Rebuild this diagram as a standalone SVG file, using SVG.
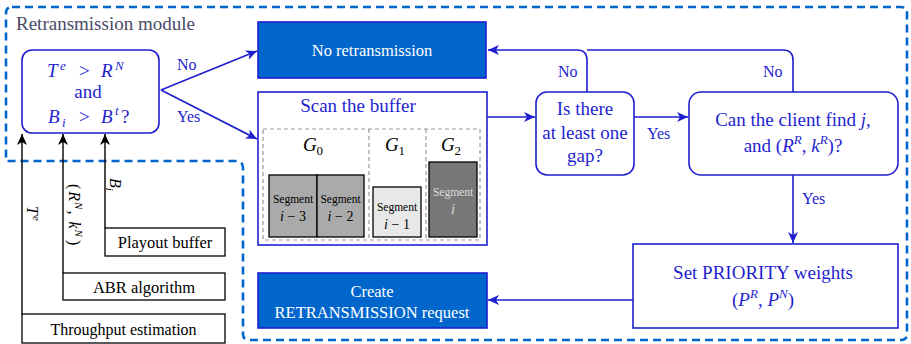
<svg xmlns="http://www.w3.org/2000/svg" width="911" height="344" viewBox="0 0 911 344" font-family="'Liberation Serif', 'DejaVu Serif', serif">
<defs>
<style>
text, tspan {font-family:'Liberation Serif', 'DejaVu Serif', serif;}
.bt{fill:#1f1fd0;}
.wt{fill:#ffffff;}
.kt{fill:#000000;}
.it{font-style:italic;}
.box{fill:#ffffff;stroke:#1f1fd0;stroke-width:1.6;}
.fbox{fill:#0066cc;stroke:#1f1fd0;stroke-width:1.6;}
.kbox{fill:#ffffff;stroke:#000000;stroke-width:1.3;}
.bl{fill:none;stroke:#1f1fd0;stroke-width:1.6;}
.kl{fill:none;stroke:#000000;stroke-width:1.4;}
.seg{stroke:#000000;stroke-width:1.3;}
.gd{fill:none;stroke:#999999;stroke-width:1.2;stroke-dasharray:4 3;}
</style>
<marker id="ab" markerUnits="userSpaceOnUse" markerWidth="12" markerHeight="10" refX="11" refY="5" orient="auto">
<path d="M0,0 L11,5 L0,10 L3,5 Z" fill="#1f1fd0"/>
</marker>
<marker id="ak" markerUnits="userSpaceOnUse" markerWidth="12" markerHeight="10" refX="11" refY="5" orient="auto">
<path d="M0,0 L11,5 L0,10 L3,5 Z" fill="#000000"/>
</marker>
</defs>
<rect width="911" height="344" fill="#ffffff"/>

<g id="module">
<path d="M12,7 H901 Q907,7 907,13 V334 Q907,340 901,340 H249 Q243,340 243,334 V168 Q243,161 236,161 H6 V13 Q6,7 12,7 Z" fill="none" stroke="#0066cc" stroke-width="2.6" stroke-dasharray="8 5"/>
<text x="16" y="30" font-size="19" fill="#4a4a68">Retransmission module</text>
</g>

<g id="connectors">
<line x1="161" y1="90" x2="257" y2="51" class="bl" marker-end="url(#ab)"/>
<line x1="161" y1="90" x2="257" y2="139" class="bl" marker-end="url(#ab)"/>
<line x1="487" y1="117" x2="535" y2="117" class="bl" marker-end="url(#ab)"/>
<line x1="634" y1="117" x2="688" y2="117" class="bl" marker-end="url(#ab)"/>
<path d="M587,92 V60 Q587,50 577,50 H488" class="bl" marker-end="url(#ab)"/>
<path d="M793,92 V60 Q793,50 783,50 H587" class="bl"/>
<line x1="793" y1="175" x2="793" y2="243" class="bl" marker-end="url(#ab)"/>
<line x1="633" y1="300" x2="488" y2="300" class="bl" marker-end="url(#ab)"/>
<line x1="22" y1="314" x2="22" y2="134" class="kl" marker-end="url(#ak)"/>
<line x1="63" y1="273" x2="63" y2="134" class="kl" marker-end="url(#ak)"/>
<line x1="105" y1="228" x2="105" y2="134" class="kl" marker-end="url(#ak)"/>
<text x="177" y="70" font-size="16" class="bt">No</text>
<text x="177" y="122" font-size="16" class="bt">Yes</text>
<text x="558" y="77" font-size="16" class="bt">No</text>
<text x="763" y="77" font-size="16" class="bt">No</text>
<text x="647" y="139" font-size="16" class="bt">Yes</text>
<text x="802" y="204" font-size="16" class="bt">Yes</text>
<text transform="translate(27,206) rotate(90)" font-size="16" class="kt"><tspan class="it">T</tspan><tspan class="it" font-size="11" dy="-6" dx="1">e</tspan></text>
<text transform="translate(69,184) rotate(90)" font-size="16" class="kt">(<tspan class="it" dx="2">R</tspan><tspan class="it" font-size="11" dy="-6" dx="1">N</tspan><tspan dy="6" dx="1">, </tspan><tspan class="it" dx="3">k</tspan><tspan class="it" font-size="11" dy="-6" dx="1">N</tspan><tspan dy="6" dx="3">)</tspan></text>
<text transform="translate(110,178) rotate(90)" font-size="16" class="kt"><tspan class="it">B</tspan><tspan class="it" font-size="11" dy="4">i</tspan></text>
</g>

<g id="decision-threshold">
<rect x="22" y="50" width="137" height="83" rx="10" class="box"/>
<text y="77" font-size="19" class="bt it"><tspan x="47">T</tspan><tspan x="60" y="70" font-size="13">e</tspan><tspan x="79" y="77" font-style="normal">&gt;</tspan><tspan x="101">R</tspan><tspan x="115" y="70" font-size="13">N</tspan></text>
<text x="88" y="98" font-size="19" text-anchor="middle" class="bt">and</text>
<text y="123" font-size="19" class="bt it"><tspan x="48">B</tspan><tspan x="62" y="127" font-size="13">i</tspan><tspan x="79" y="123" font-style="normal">&gt;</tspan><tspan x="101">B</tspan><tspan x="115" y="115" font-size="13">t</tspan><tspan x="121" y="123" font-style="normal">?</tspan></text>
</g>

<g id="no-retransmission">
<rect x="258" y="22" width="228" height="56" class="fbox"/>
<text x="372" y="56" font-size="16.5" text-anchor="middle" class="wt">No retransmission</text>
</g>

<g id="scan-buffer">
<rect x="258" y="92" width="229" height="153" class="box"/>
<text x="358" y="112" font-size="19" text-anchor="middle" class="bt">Scan the buffer</text>
<rect x="263" y="129" width="217" height="111" class="gd"/>
<line x1="369" y1="129" x2="369" y2="240" class="gd"/>
<line x1="426" y1="129" x2="426" y2="240" class="gd"/>
<text x="313" y="151" font-size="19" text-anchor="middle" class="kt"><tspan class="it">G</tspan><tspan font-size="13" dy="4">0</tspan></text>
<text x="395" y="151" font-size="19" text-anchor="middle" class="kt"><tspan class="it">G</tspan><tspan font-size="13" dy="4">1</tspan></text>
<text x="451" y="151" font-size="19" text-anchor="middle" class="kt"><tspan class="it">G</tspan><tspan font-size="13" dy="4">2</tspan></text>
<rect x="269" y="175" width="48" height="62" fill="#aaaaaa" class="seg"/>
<rect x="317" y="175" width="47" height="62" fill="#aaaaaa" class="seg"/>
<rect x="373" y="187" width="48" height="50" fill="#e8e8e8" class="seg"/>
<rect x="429" y="162" width="48" height="75" fill="#777777" class="seg"/>
<text x="293" y="203" font-size="11.5" text-anchor="middle" class="kt">Segment</text>
<text x="293" y="221" font-size="14" text-anchor="middle" class="kt"><tspan class="it">i</tspan> − 3</text>
<text x="340.5" y="203" font-size="11.5" text-anchor="middle" class="kt">Segment</text>
<text x="340.5" y="221" font-size="14" text-anchor="middle" class="kt"><tspan class="it">i</tspan> − 2</text>
<text x="397" y="211" font-size="11.5" text-anchor="middle" class="kt">Segment</text>
<text x="397" y="229" font-size="14" text-anchor="middle" class="kt"><tspan class="it">i</tspan> − 1</text>
<text x="453" y="196" font-size="11.5" text-anchor="middle" fill="#dddddd">Segment</text>
<text x="453" y="214" font-size="14" text-anchor="middle" fill="#dddddd" font-style="italic">i</text>
</g>

<g id="gap-decision">
<rect x="536" y="92" width="98" height="83" rx="11" class="box"/>
<text x="585" y="115" font-size="19" text-anchor="middle" class="bt">Is there</text>
<text x="585" y="139" font-size="19" text-anchor="middle" class="bt">at least one</text>
<text x="585" y="162" font-size="19" text-anchor="middle" class="bt">gap?</text>
</g>

<g id="client-decision">
<rect x="689" y="92" width="209" height="83" rx="12" class="box"/>
<text x="793" y="126" font-size="19" text-anchor="middle" class="bt">Can the client find <tspan class="it">j</tspan>,</text>
<text x="793" y="152" font-size="19" text-anchor="middle" class="bt">and (<tspan class="it">R</tspan><tspan class="it" font-size="13" dy="-8">R</tspan><tspan dy="8">, </tspan><tspan class="it">k</tspan><tspan class="it" font-size="13" dy="-8">R</tspan><tspan dy="8">)?</tspan></text>
</g>

<g id="set-priority">
<rect x="633" y="244" width="265" height="84" class="box"/>
<text x="763" y="279" font-size="19" text-anchor="middle" class="bt">Set PRIORITY weights</text>
<text x="763" y="306" font-size="19" text-anchor="middle" class="bt">(<tspan class="it">P</tspan><tspan class="it" font-size="13" dy="-8">R</tspan><tspan dy="8">, </tspan><tspan class="it">P</tspan><tspan class="it" font-size="13" dy="-8">N</tspan><tspan dy="8">)</tspan></text>
</g>

<g id="create-request">
<rect x="258" y="273" width="229" height="55" class="fbox"/>
<text x="372" y="297" font-size="16.5" text-anchor="middle" class="wt">Create</text>
<text x="372" y="318" font-size="16.5" text-anchor="middle" class="wt">RETRANSMISSION request</text>
</g>

<g id="playout-buffer">
<rect x="105" y="228" width="120" height="28" class="kbox"/>
<text x="165" y="248" font-size="16.5" text-anchor="middle" class="kt">Playout buffer</text>
</g>

<g id="abr-algorithm">
<rect x="63" y="273" width="162" height="27" class="kbox"/>
<text x="144" y="293" font-size="16.5" text-anchor="middle" class="kt">ABR algorithm</text>
</g>

<g id="throughput-estimation">
<rect x="22" y="314" width="203" height="29" class="kbox"/>
<text x="123.5" y="335" font-size="16" text-anchor="middle" class="kt">Throughput estimation</text>
</g>
</svg>
